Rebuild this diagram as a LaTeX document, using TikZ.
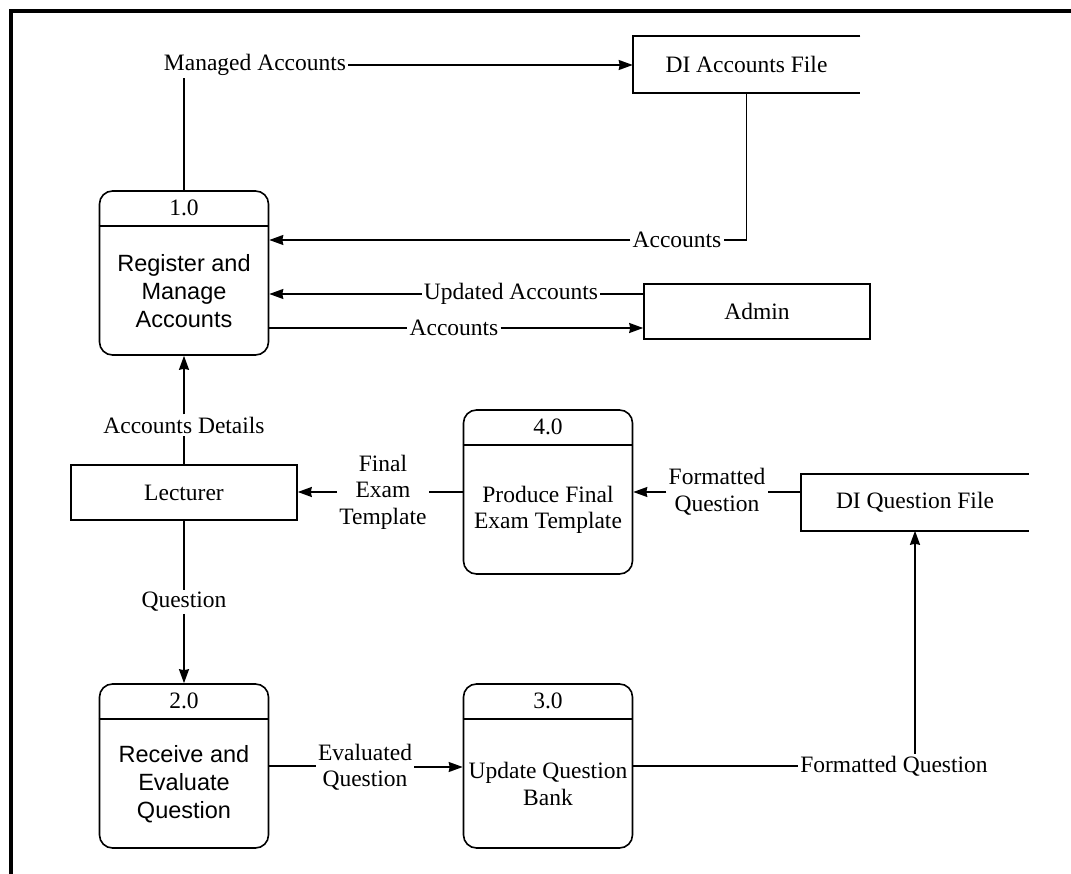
\documentclass[tikz,border=0pt]{standalone}
\usepackage{fontspec}
\setmainfont{Liberation Serif}
\newfontfamily\arialfont{Liberation Sans}
\usetikzlibrary{arrows.meta}
\tikzset{>={Stealth[length=14pt,width=10pt,inset=1pt]}}
\tikzset{
  every node/.style={font=\fontsize{23.5}{26.5}\selectfont},
  proc/.style={draw, rounded corners=13pt, minimum width=169pt, minimum height=164pt, inner sep=0pt},
  ent/.style={draw, minimum width=226pt, minimum height=55pt},
  store/.style={minimum width=226pt, minimum height=55pt},
  flow/.style={align=center, inner sep=1.5pt},
  body/.style={align=center},
  sbody/.style={align=center, font=\arialfont\fontsize{23.5}{28}\selectfont},
}

\begin{document}
\begin{tikzpicture}[x=1pt, y=-1pt, line width=1.6pt]
\useasboundingbox (0,0) rectangle (1071,874);
\draw[line width=3.5pt] (11,874) -- (11,11) -- (1071,11);

\node[proc] (p1) at (184,273) {};
\node[proc] (p2) at (184,766) {};
\node[proc] (p3) at (548,766) {};
\node[proc] (p4) at (548,492) {};
\foreach \p/\n in {p1/1.0, p2/2.0, p3/3.0, p4/4.0}{
  \draw ([yshift=-36pt]\p.north west) -- ([yshift=-36pt]\p.north east);
  \node (num\p) at ([yshift=-18pt]\p.north) {\n};
}
\node[sbody] (txt1) at ([yshift=-18pt]p1.center) {Register and\\Manage\\Accounts};
\node[sbody] (txt2) at ([yshift=-18pt]p2.center) {Receive and\\Evaluate\\Question};
\node[body] (txt3) at ([yshift=-18pt]p3.center) {Update Question\\Bank};
\node[body] (txt4) at ([yshift=-18pt]p4.center) {Produce Final\\Exam Template};

\node[ent] (admin) at (757,311.5) {Admin};
\node[ent] (lect) at (184,492.5) {Lecturer};
\node[store] (accf) at (746.5,64.5) {DI Accounts File};
\node[store] (qf) at (915,502.5) {DI Question File};
\foreach \s in {accf,qf}
  \draw (\s.north east) -- (\s.north west) -- (\s.south west) -- (\s.south east);

\node[flow] (lman) at (255,65) {Managed Accounts};
\node[flow] (lacc1) at (677,240) {Accounts};
\node[flow] (lupd) at (511,294) {Updated Accounts};
\node[flow] (lacc2) at (454,328) {Accounts};
\node[flow] (ldet) at (184,425) {Accounts Details};
\node[flow] (lfin) at (383,492) {Final\\Exam\\Template};
\node[flow] (lfmt1) at (717,492) {Formatted\\Question};
\node[flow] (lque) at (184,602) {Question};
\node[flow] (leva) at (365,767) {Evaluated\\Question};
\node[flow] (lfmt2) at (894,766) {Formatted Question};

\draw (p1.north) -- (p1.north |- lman.south);
\draw[->] (lman.east) -- (lman.east -| accf.west);
\draw (accf.south) |- (lacc1.east);
\draw[->] (lacc1.west) -- (lacc1.west -| p1.east);
\draw (lupd.east -| admin.west) -- (lupd.east);
\draw[->] (lupd.west) -- (lupd.west -| p1.east);
\draw (lacc2.west -| p1.east) -- (lacc2.west);
\draw[->] (lacc2.east) -- (lacc2.east -| admin.west);
\draw (lect.north) -- (ldet.south);
\draw[->] (ldet.north) -- (p1.south);
\draw (p4.west) -- (lfin.east);
\draw[->] (lfin.west) -- (lfin.west -| lect.east);
\draw (qf.west |- lfmt1.east) -- (lfmt1.east);
\draw[->] (lfmt1.west) -- (p4.east);
\draw (lect.south) -- (lque.north);
\draw[->] (lque.south) -- (p2.north);
\draw (p2.east) -- (p2.east -| leva.west);
\draw[->] (leva.east) -- (leva.east -| p3.west);
\draw (p3.east) -- (lfmt2.west);
\draw[->] (lfmt2.north -| qf.south) -- (qf.south);
\end{tikzpicture}
\end{document}
